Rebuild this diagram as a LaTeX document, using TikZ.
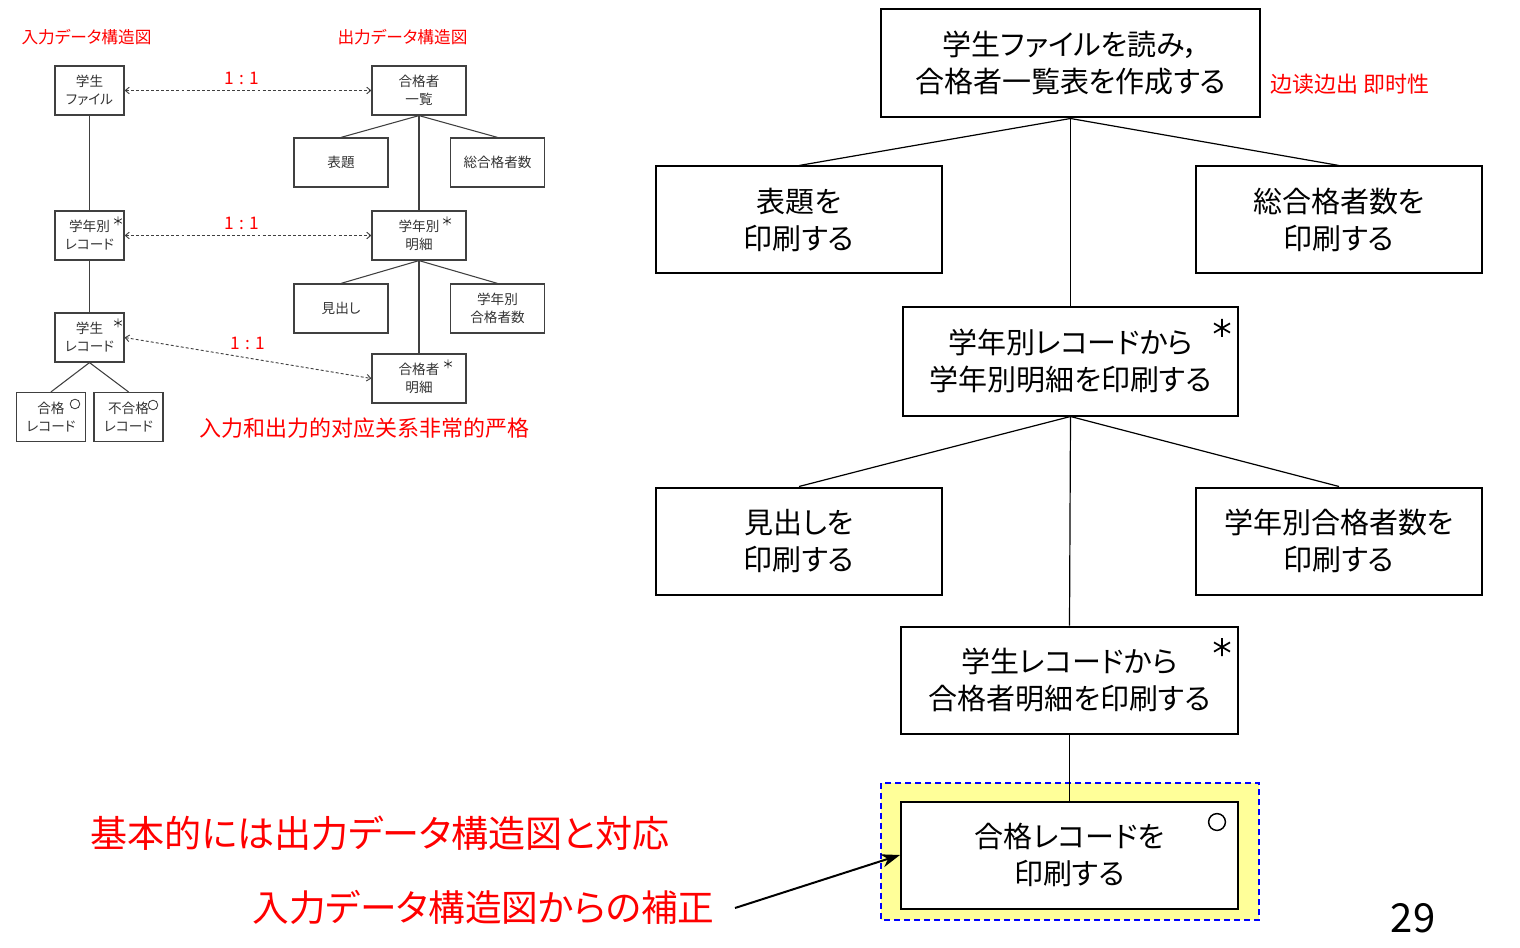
\documentclass[tikz,border=0pt]{standalone}
\usepackage{fontspec}
\setmainfont{Noto Sans CJK JP}[RawFeature=+palt]
\newfontfamily\scfont{Noto Sans CJK SC}
\usetikzlibrary{arrows.meta}
\definecolor{hl}{HTML}{FFFF99}
\definecolor{rd}{HTML}{FF0000}
\definecolor{bl}{HTML}{0000FF}
\begin{document}
\begin{tikzpicture}[x={(0.75pt,0)},y={(0,-0.75pt)},
  mbox/.style={draw=black,line width=1.5pt,fill=white,inner sep=0pt,align=center,
    font=\fontsize{21.75}{27.75}\selectfont},
  sbox/.style={draw=black!75,line width=0.9pt,inner sep=0pt,align=center,text=black!80,
    font=\fontsize{10.2}{13.5}\selectfont,minimum height={49*0.75pt}},
  ibox/.style={sbox,minimum width={69*0.75pt}},
  obox/.style={sbox,minimum width={94*0.75pt}},
  wbox/.style={mbox,minimum width={286*0.75pt},minimum height={107*0.75pt}},
  conn/.style={draw=black,line width=0.9pt},
  sconn/.style={draw=black!75,line width=0.8pt},
  dasharrow/.style={draw=black!75,line width=0.7pt,dash pattern=on 2.2pt off 1.6pt,
    {Straight Barb[length=3pt,width=5pt]}-{Straight Barb[length=3pt,width=5pt]}},
  redlbl/.style={text=rd,inner sep=0pt},
  ratio/.style={text=rd,inner sep=0pt,font=\fontsize{13}{14}\selectfont},
]
\useasboundingbox (0,0) rectangle (1520,948);

% ---------------- left: data structure diagrams ----------------
\node[redlbl,font=\fontsize{12.5}{14}\selectfont] (tin) at (86.5,37) {入力データ構造図};
\node[redlbl,font=\fontsize{12.5}{14}\selectfont] (tout) at (402.5,37) {出力データ構造図};

\node[ibox] (sf) at (89.5,90.5) {学生\\ファイル};
\node[ibox] (gr) at (89.5,235.5) {学年別\\レコード};
\node[ibox] (sr) at (89.5,337.5) {学生\\レコード};
\node[ibox] (pr) at (51,417) {合格\\レコード};
\node[ibox] (fr) at (128.5,417) {不合格\\レコード};

\node[obox] (ok) at (419,90.5) {合格者\\一覧};
\node[obox] (hy) at (341,162.5) {表題};
\node[obox] (sg) at (497.5,162.5) {総合格者数};
\node[obox] (gm) at (419,235.5) {学年別\\明細};
\node[obox] (mh) at (341,308.5) {見出し};
\node[obox] (gs) at (497.5,308.5) {学年別\\合格者数};
\node[obox] (md) at (419,378.5) {合格者\\明細};

% small asterisks and circles
\foreach \cx/\cy in {118/221, 118/323, 447/221, 448/364}{
  \draw[black!80,line width=0.6pt] (\cx,\cy-4.5) -- (\cx,\cy+4.5)
    (\cx-3.9,\cy-2.25) -- (\cx+3.9,\cy+2.25)
    (\cx-3.9,\cy+2.25) -- (\cx+3.9,\cy-2.25);
}
\draw[black!80,line width=0.6pt] (75,404) circle[radius=3.6pt];
\draw[black!80,line width=0.6pt] (153,405) circle[radius=3.6pt];

\draw[sconn] (sf.south) -- (gr.north);
\draw[sconn] (gr.south) -- (sr.north);
\draw[sconn] (sr.south) -- (pr.north);
\draw[sconn] (sr.south) -- (fr.north);

\draw[sconn] (ok.south) -- (hy.north);
\draw[sconn] (ok.south) -- (sg.north);
\draw[sconn] (ok.south) -- (gm.north);
\draw[sconn] (gm.south) -- (mh.north);
\draw[sconn] (gm.south) -- (gs.north);
\draw[sconn] (gm.south) -- (md.north);

\draw[dasharrow] (sf.east) -- (ok.west);
\draw[dasharrow] (gr.east) -- (gm.west);
\draw[dasharrow] (sr.east) -- (md.west);
\node[ratio] (r1) at (242,78) {1\hspace{4pt}:\hspace{4pt}1};
\node[ratio] (r2) at (242,223) {1\hspace{4pt}:\hspace{4pt}1};
\node[ratio] (r3) at (248,343) {1\hspace{4pt}:\hspace{4pt}1};

\node[redlbl,font=\fontsize{16.5}{18}\selectfont\scfont] (strict) at (364.5,428) {入力和出力的对应关系非常的严格};

% ---------------- right: program structure ----------------
\fill[hl] (881,783) rectangle (1259,920);
\draw[bl,line width=1.3pt,dash pattern=on 4.5pt off 3pt] (881,783) rectangle (1259,920);

\node[mbox,minimum width={379*0.75pt},minimum height={108*0.75pt}] (top) at (1070.5,63.5)
  {学生ファイルを読み，\hspace{11pt}\\合格者一覧表を作成する};
\node[wbox] (t1) at (799,220) {表題を\\印刷する};
\node[wbox] (t2) at (1339,220) {総合格者数を\\印刷する};
\node[mbox,minimum width={335*0.75pt},minimum height={108*0.75pt}] (g) at (1070.5,361.5)
  {学年別レコードから\\学年別明細を印刷する};
\node[wbox] (m1) at (799,541) {見出しを\\印刷する};
\node[wbox] (m2) at (1339,541) {学年別合格者数を\\印刷する};
\node[mbox,minimum width={337*0.75pt},minimum height={107*0.75pt}] (s) at (1069.5,680)
  {学生レコードから\\合格者明細を印刷する};
\node[mbox,minimum width={337*0.75pt},minimum height={107*0.75pt}] (p) at (1069.5,855)
  {合格レコードを\\印刷する};

\foreach \cx/\cy in {1222/328, 1222/647}{
  \draw[black,line width=1.3pt] (\cx,\cy-9) -- (\cx,\cy+9)
    (\cx-8,\cy-4.6) -- (\cx+8,\cy+4.6)
    (\cx-8,\cy+4.6) -- (\cx+8,\cy-4.6);
}
\draw[black,line width=1.1pt] (1217,822) circle[radius=6.3pt];

\draw[conn] (top.south) -- (t1.north);
\draw[conn] (top.south) -- (t2.north);
\draw[conn] (top.south) -- (g.north);
\draw[conn] (g.south) -- (m1.north);
\draw[conn] (g.south) -- (m2.north);
\draw[conn] (g.south) -- (s.north);
\draw[conn] (s.south) -- (p.north);

\node[redlbl,font=\fontsize{16.5}{18}\selectfont\scfont] (rt) at (1350,84) {边读边出 即时性};

\node[redlbl,font=\fontsize{27.8}{30}\selectfont] (b1) at (380,833) {基本的には出力データ構造図と対応};
\node[redlbl,font=\fontsize{27.5}{30}\selectfont] (b2) at (483.5,907) {入力データ構造図からの補正};
\coordinate (as) at (735,908);
\draw[black,line width=1.5pt,-{Stealth[length=14pt,width=10pt]}] (as) -- (p.west);

\node[inner sep=0pt,font=\fontsize{30}{32}\selectfont] (pg) at (1413,918) {29};
\end{tikzpicture}
\end{document}
